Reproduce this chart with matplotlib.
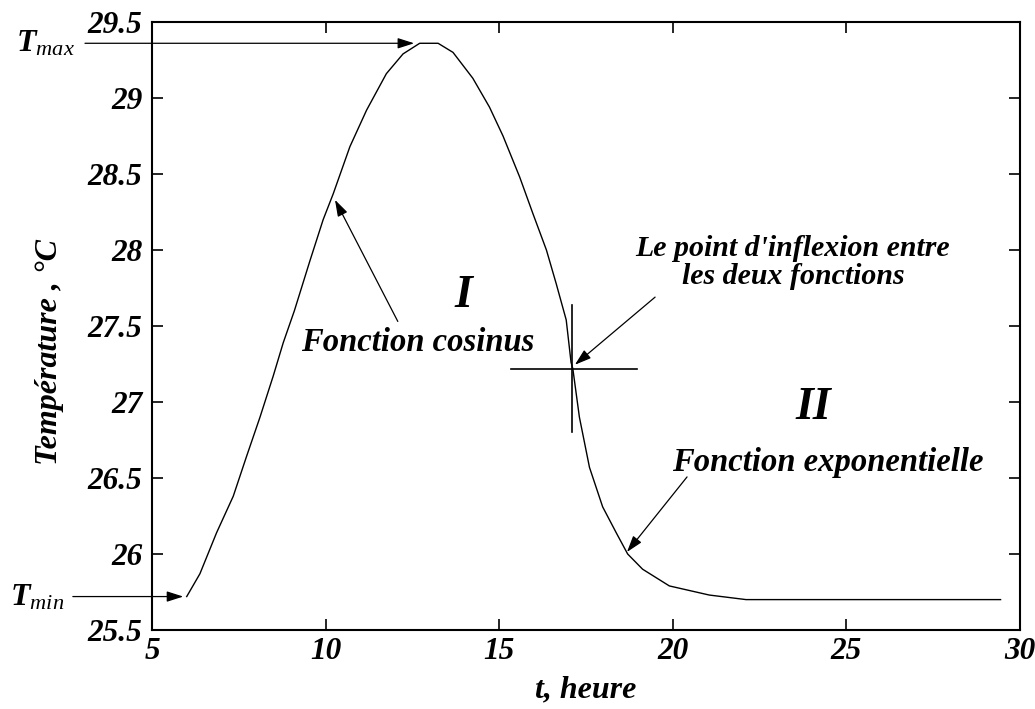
import matplotlib
matplotlib.use("Agg")
import matplotlib.pyplot as plt

# Daily temperature profile: cosine rise/fall (I), then exponential decay (II)
hours = [6.00, 6.38, 6.86, 7.34, 7.72, 8.11, 8.49, 8.78, 9.10, 9.55, 9.93,
         10.22, 10.70, 11.18, 11.75, 12.23, 12.71, 13.24, 13.67, 14.24,
         14.72, 15.11, 15.59, 15.97, 16.36, 16.64, 16.93, 17.07, 17.12,
         17.31, 17.60, 17.98, 18.37, 18.70, 19.13, 19.90, 21.05, 22.11, 29.44]
temps = [25.72, 25.87, 26.14, 26.38, 26.64, 26.90, 27.17, 27.39, 27.60, 27.93,
         28.20, 28.37, 28.68, 28.92, 29.16, 29.29, 29.36, 29.36, 29.30, 29.13,
         28.94, 28.75, 28.48, 28.24, 28.00, 27.78, 27.54, 27.26, 27.22,
         26.90, 26.57, 26.31, 26.14, 26.00, 25.90, 25.79, 25.73, 25.70, 25.70]

t_max, T_max = 12.55, 29.36
t_min, T_min = 5.90, 25.72
t_inflex, T_inflex = 17.12, 27.22

x_ticks = [5, 10, 15, 20, 25, 30]
x_tick_labels = ["5", "10", "15", "20", "25", "30"]
y_ticks = [25.5, 26, 26.5, 27, 27.5, 28, 28.5, 29, 29.5]
y_tick_labels = ["25.5", "26", "26.5", "27", "27.5", "28", "28.5", "29", "29.5"]

serif = "Liberation Serif"
plt.rcParams["mathtext.fontset"] = "custom"
plt.rcParams["mathtext.it"] = "Liberation Serif:italic"
plt.rcParams["mathtext.rm"] = "Liberation Serif"
plt.rcParams["mathtext.bf"] = "Liberation Serif:bold:italic"

fig = plt.figure(figsize=(10.35, 7.09), dpi=100)
ax = fig.add_axes([152 / 1035, 1 - 630 / 709, 868 / 1035, 608 / 709])

ax.plot(hours, temps, color="black", linewidth=1.0)

ax.set_xlim(5, 30)
ax.set_ylim(25.5, 29.5)
ax.set_xticks(x_ticks)
ax.set_xticklabels(x_tick_labels)
ax.set_yticks(y_ticks)
ax.set_yticklabels(y_tick_labels)
ax.tick_params(direction="in", length=8, width=1.2, top=True, right=True,
               labelsize=22.5, pad=7)
ax.tick_params(axis="x", pad=5)
for lab in ax.get_xticklabels() + ax.get_yticklabels():
    lab.set_fontfamily(serif)
    lab.set_fontweight("bold")
    lab.set_fontstyle("italic")
for sp in ax.spines.values():
    sp.set_linewidth(1.5)

txt = dict(family=serif, weight="bold", style="italic", color="black")
arrow = dict(arrowstyle="-|>,head_length=1.0,head_width=0.32", color="black",
             linewidth=0.9, shrinkA=0, shrinkB=0)

ax.set_xlabel("t, heure", fontsize=23, **txt)
ax.xaxis.label.set_va("center")
ax.xaxis.set_label_coords(0.5, (630 - 690) / 608)
ax.set_ylabel("Température , °C", fontsize=23, **txt)
ax.yaxis.label.set_va("center")
ax.yaxis.label.set_ha("center")
ax.yaxis.set_label_coords((50 - 152) / 868, (630 - 352) / 608)

# Tmax / Tmin markers from outside the axes
ax.annotate("", xy=(t_max, T_max), xytext=(3.07, T_max), arrowprops=arrow,
            annotation_clip=False)
ax.text(2.78, T_max, r"$\mathbf{T}_{max}$", fontsize=23, ha="right",
        va="center", clip_on=False)
ax.annotate("", xy=(t_min, T_min), xytext=(2.72, T_min), arrowprops=arrow,
            annotation_clip=False)
ax.text(2.49, T_min, r"$\mathbf{T}_{min}$", fontsize=23, ha="right",
        va="center", clip_on=False)

# Region I
ax.text(13.96, 27.70, "I", fontsize=33, ha="center", va="center", **txt)
ax.text(12.65, 27.39, "Fonction cosinus", fontsize=23.5, ha="center",
        va="center", **txt)
ax.annotate("", xy=(10.27, 28.33), xytext=(12.08, 27.53), arrowprops=arrow)

# Inflection point cross and label
ax.plot([t_inflex - 0.02, t_inflex - 0.02], [26.80, 27.64], color="black",
        linewidth=1.2)
ax.plot([15.35, 18.97], [T_inflex, T_inflex], color="black", linewidth=1.2)
ax.text(23.46, 27.92, "Le point d'inflexion entre\nles deux fonctions",
        fontsize=21.5, ha="center", va="center", linespacing=1.05, **txt)
ax.annotate("", xy=(17.18, 27.245), xytext=(19.49, 27.69), arrowprops=arrow)

# Region II
ax.text(24.04, 26.96, "II", fontsize=33, ha="center", va="center", **txt)
ax.text(24.46, 26.605, "Fonction exponentielle", fontsize=23.5, ha="center",
        va="center", **txt)
ax.annotate("", xy=(18.68, 26.013), xytext=(20.41, 26.507), arrowprops=arrow)

fig.savefig("out.png", dpi=100)
